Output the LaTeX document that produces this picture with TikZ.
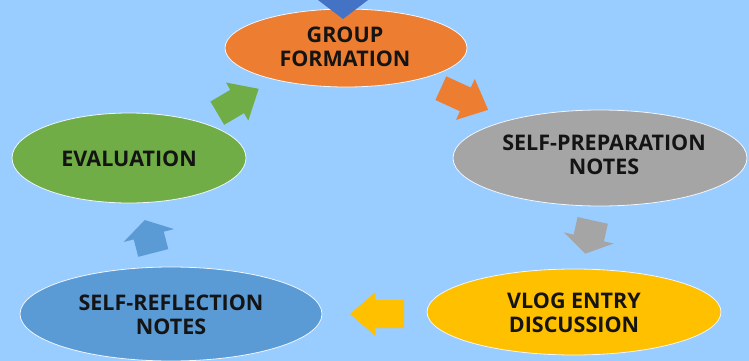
\documentclass[tikz,border=0pt]{standalone}
\usepackage{fontspec}
\setmainfont{Open Sans}
\usetikzlibrary{shapes.geometric}
\definecolor{bgblue}{RGB}{153,204,255}
\definecolor{cOrange}{HTML}{ED7D31}
\definecolor{cGreen}{HTML}{70AD47}
\definecolor{cGray}{HTML}{A5A5A5}
\definecolor{cBlue}{HTML}{5B9BD5}
\definecolor{cYellow}{HTML}{FFC000}
\definecolor{cDark}{HTML}{4472C4}
\definecolor{txt}{HTML}{141414}
\newcommand\blockarr[8]{%
  \begin{scope}[shift={(#1,#2)}, rotate=#3]
    \fill[#8] ({-#4/2},{-#7/2}) -- ({#4/2-#5},{-#7/2}) -- ({#4/2-#5},{-#6/2}) -- ({#4/2},0)
      -- ({#4/2-#5},{#6/2}) -- ({#4/2-#5},{#7/2}) -- ({-#4/2},{#7/2}) -- cycle;
  \end{scope}}
\tikzset{
  stage/.style={ellipse, draw=white!85!bgblue, line width=0.8pt, inner sep=0pt},
  lbl/.style={align=center, text=txt, inner sep=0pt, font=\fontsize{21.5}{24}\selectfont\bfseries}
}
\begin{document}
\begin{tikzpicture}[x=1pt,y=-1pt]
\fill[bgblue] (0,0) rectangle (749,361);
\useasboundingbox (0,0) rectangle (749,361);
\node[stage, fill=cOrange, minimum width=242pt, minimum height=78pt] (group) at (346,48) {};
\node[stage, fill=cGreen, minimum width=234pt, minimum height=90pt] (eval) at (129,158) {};
\node[stage, fill=cGray, minimum width=294pt, minimum height=96pt] (prep) at (600,158) {};
\node[stage, fill=cBlue, minimum width=302pt, minimum height=94pt] (refl) at (171,314) {};
\node[stage, fill=cYellow, minimum width=294pt, minimum height=86pt] (vlog) at (574,312) {};
\node[lbl] (tgroup) at (345,47) {GROUP\\FORMATION};
\node[lbl] (teval) at (129,159) {EVALUATION};
\node[lbl] (tprep) at (604,155) {SELF-PREPARATION\\NOTES};
\node[lbl] (trefl) at (171,315) {SELF-REFLECTION\\NOTES};
\node[lbl] (tvlog) at (574,312.5) {VLOG ENTRY\\DISCUSSION};
\fill[cDark] (318,0) -- (368,0) -- (343,19) -- cycle;
\blockarr{238}{101}{30.5}{48}{25}{44}{27}{cGreen}
\blockarr{464.5}{99}{-24.6}{52}{25}{45}{26}{cOrange}
\blockarr{589}{237}{-102.6}{34}{16}{51}{31}{cGray}
\blockarr{149}{236.5}{104.4}{34}{16}{52}{31}{cBlue}
\blockarr{377}{314}{180}{54}{25}{43}{28}{cYellow}
\end{tikzpicture}
\end{document}
